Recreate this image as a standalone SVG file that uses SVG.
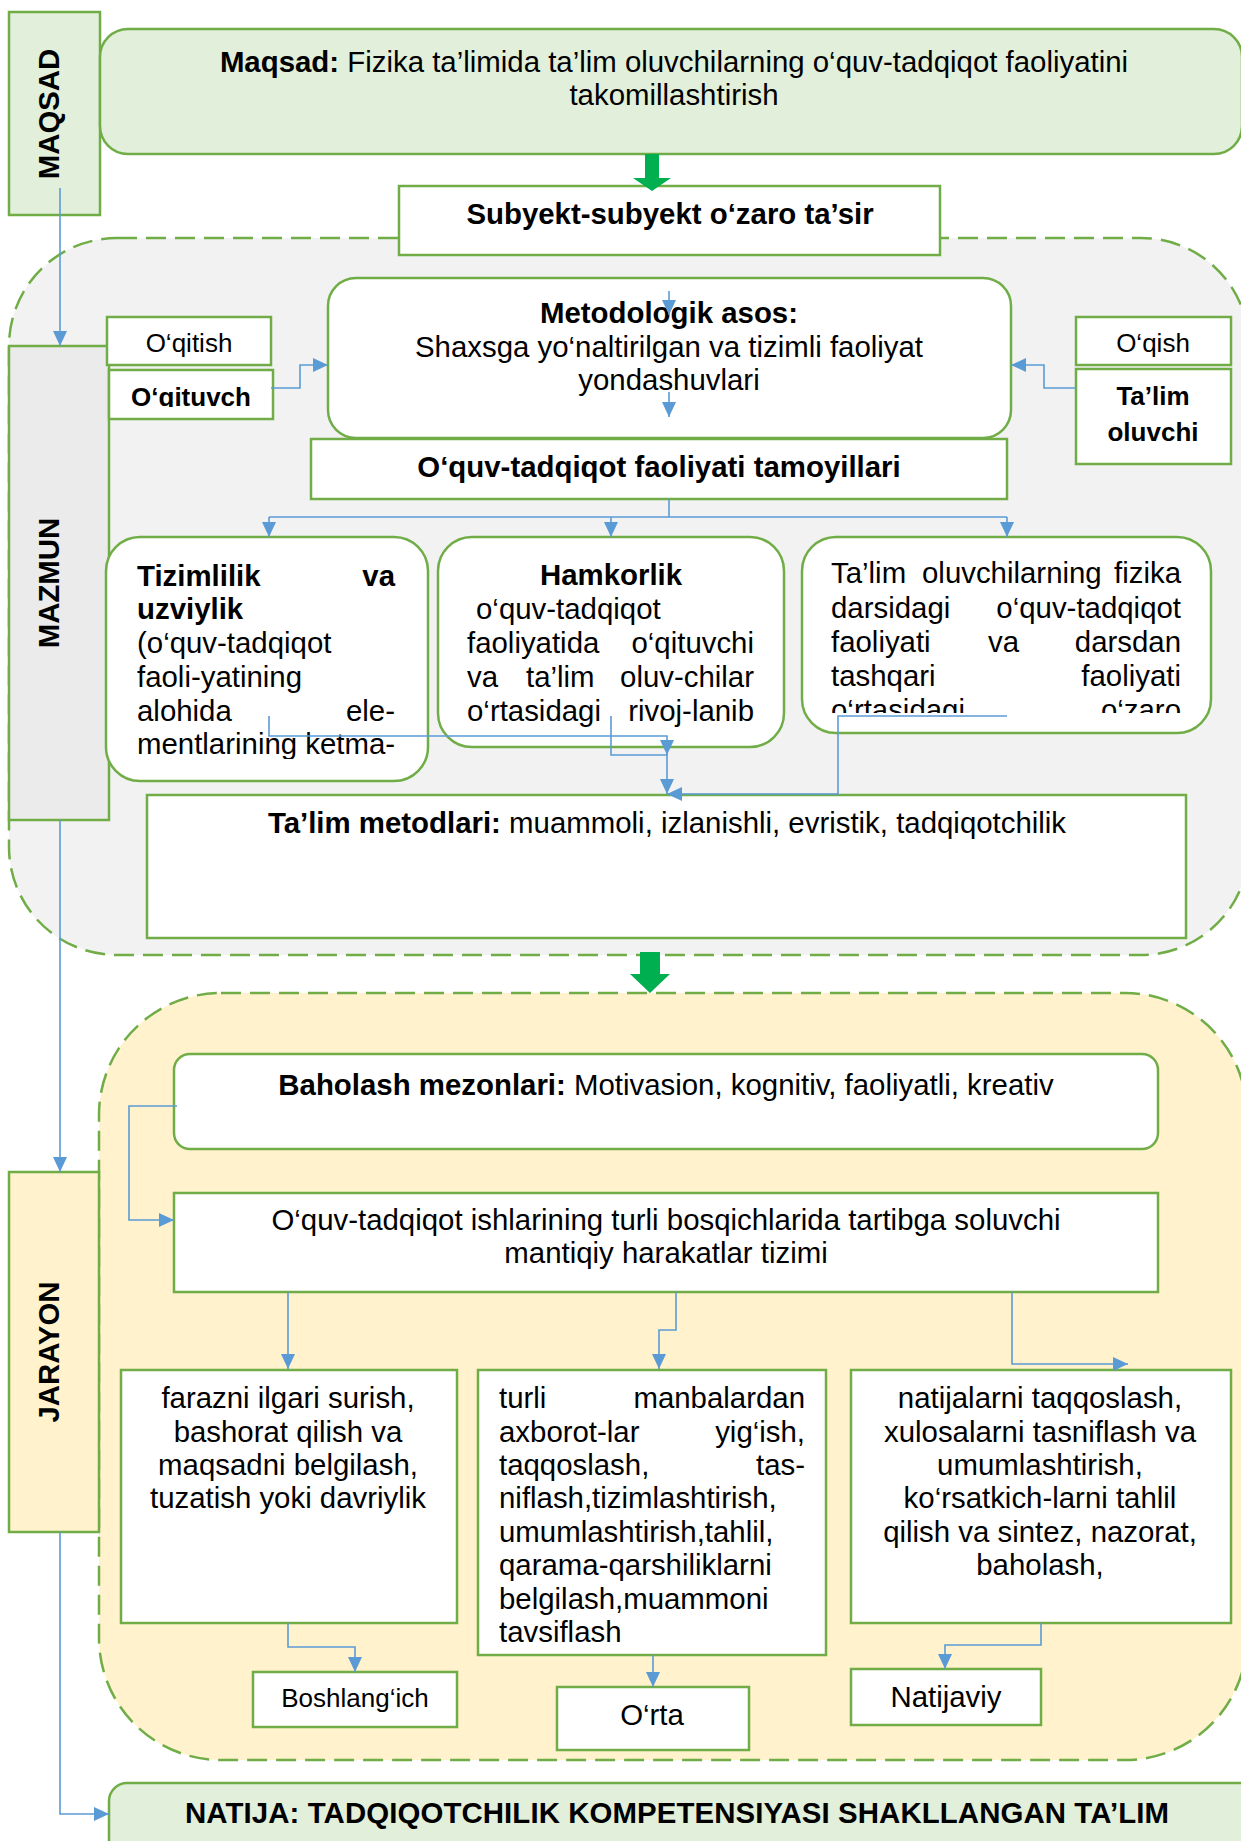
<svg xmlns="http://www.w3.org/2000/svg" width="1241" height="1841" viewBox="0 0 1241 1841">
<defs>
<style>
.box{fill:#ffffff;stroke:#70ad47;stroke-width:2.5}
.gbox{fill:#e2efda;stroke:#70ad47;stroke-width:2.5}
.ybox{fill:#fff2cc;stroke:#70ad47;stroke-width:2.5}
.mbox{fill:#ebebeb;stroke:#70ad47;stroke-width:2.5}
.t{font-family:"Liberation Sans",Arial,sans-serif;font-size:29.4px;fill:#000000}
.s{font-size:26px}
.b{font-weight:bold}
.m{text-anchor:middle}
.e{text-anchor:end}
.c{stroke:#5b9bd5;stroke-width:1.6;fill:none}
.ca{stroke:#5b9bd5;stroke-width:1.6;fill:none;marker-end:url(#ah)}
.dash{stroke:#70ad47;stroke-width:2.5;stroke-dasharray:20 9}
.garrow{fill:#00b050}
</style>
<marker id="ah" markerUnits="userSpaceOnUse" markerWidth="15" markerHeight="14" refX="15" refY="7" orient="auto"><path d="M0,0L15,7L0,14z" fill="#5b9bd5"/></marker>
<clipPath id="clipA"><rect x="106" y="537" width="322" height="222"/></clipPath>
<clipPath id="clipB"><rect x="438" y="537" width="346" height="191"/></clipPath>
<clipPath id="clipC"><rect x="802" y="537" width="409" height="176"/></clipPath>
<clipPath id="clipQ"><rect x="109" y="370" width="164" height="37"/></clipPath>
</defs>
<rect x="0" y="0" width="1241" height="1841" fill="#ffffff"/>

<g id="mazmun-area">
<rect x="9" y="238" width="1240" height="717" rx="108" fill="#f2f2f2" class="dash"/>
</g>
<g id="jarayon-area">
<rect x="99" y="993" width="1148" height="767" rx="122" fill="#fff2cc" class="dash"/>
</g>

<g id="maqsad-label">
<rect x="9" y="12" width="91" height="203" class="gbox"/>
<text class="t b m" transform="translate(59,114) rotate(-90)">MAQSAD</text>
</g>
<g id="maqsad">
<rect x="100" y="29" width="1142" height="125" rx="28" class="gbox"/>
<text class="t m" x="674" y="72"><tspan font-weight="bold">Maqsad:</tspan> Fizika ta’limida ta’lim oluvchilarning o‘quv-tadqiqot faoliyatini</text>
<text class="t m" x="674" y="105">takomillashtirish</text>
</g>
<g id="subyekt">
<rect x="399" y="186" width="541" height="69" class="box"/>
<text class="t b m" x="670" y="224">Subyekt-subyekt o‘zaro ta’sir</text>
</g>
<g id="mazmun-label">
<rect x="9" y="346" width="100" height="474" class="mbox"/>
<text class="t b m" transform="translate(59,583) rotate(-90)">MAZMUN</text>
</g>
<g id="oqitish">
<rect x="107" y="317" width="164" height="48" class="box"/>
<text class="t s m" x="189" y="352">O‘qitish</text>
</g>
<g id="oqituvchi">
<rect x="109" y="370" width="164" height="49" class="box"/>
<text class="t s b m" x="191" y="406" clip-path="url(#clipQ)">O‘qituvch</text>
</g>
<g id="oqish">
<rect x="1076" y="317" width="155" height="48" class="box"/>
<text class="t s m" x="1153" y="352">O‘qish</text>
</g>
<g id="talim-oluvchi">
<rect x="1076" y="369" width="155" height="95" class="box"/>
<text class="t s b m" x="1153" y="405">Ta’lim</text>
<text class="t s b m" x="1153" y="441">oluvchi</text>
</g>
<g id="metodologik">
<rect x="328" y="278" width="683" height="160" rx="28" class="box"/>
<text class="t b m" x="669" y="323">Metodologik asos:</text>
<text class="t m" x="669" y="357">Shaxsga yo‘naltirilgan va tizimli faoliyat</text>
<text class="t m" x="669" y="390">yondashuvlari</text>
</g>
<g id="tamoyillar">
<rect x="311" y="439" width="696" height="60" class="box"/>
<text class="t b m" x="659" y="477">O‘quv-tadqiqot faoliyati tamoyillari</text>
</g>
<g id="tizimlilik">
<rect x="106" y="537" width="322" height="244" rx="34" class="box"/>
<g clip-path="url(#clipA)">
<text class="t b" x="137" y="586">Tizimlilik</text><text class="t b e" x="395" y="586">va</text>
<text class="t b" x="137" y="619">uzviylik</text>
<text class="t" x="137" y="653">(o‘quv-tadqiqot</text>
<text class="t" x="137" y="687">faoli-yatining</text>
<text class="t" x="137" y="721">alohida</text><text class="t e" x="395" y="721">ele-</text>
<text class="t" x="137" y="754">mentlarining ketma-</text>
</g>
</g>
<g id="hamkorlik">
<rect x="438" y="537" width="346" height="210" rx="34" class="box"/>
<g clip-path="url(#clipB)">
<text class="t b m" x="611" y="585">Hamkorlik</text>
<text class="t" x="476" y="619">o‘quv-tadqiqot</text>
<text class="t" x="467" y="653">faoliyatida</text><text class="t e" x="754" y="653">o‘qituvchi</text>
<text class="t" x="467" y="687">va</text><text class="t" x="526" y="687">ta’lim</text><text class="t e" x="754" y="687">oluv-chilar</text>
<text class="t" x="467" y="721">o‘rtasidagi</text><text class="t e" x="754" y="721">rivoj-lanib</text>
</g>
</g>
<g id="darsdan-tashqari">
<rect x="802" y="537" width="409" height="196" rx="34" class="box"/>
<g clip-path="url(#clipC)">
<text class="t" x="831" y="583">Ta’lim</text><text class="t" x="922" y="583">oluvchilarning</text><text class="t e" x="1181" y="583">fizika</text>
<text class="t" x="831" y="618">darsidagi</text><text class="t e" x="1181" y="618">o‘quv-tadqiqot</text>
<text class="t" x="831" y="652">faoliyati</text><text class="t" x="988" y="652">va</text><text class="t e" x="1181" y="652">darsdan</text>
<text class="t" x="831" y="686">tashqari</text><text class="t e" x="1181" y="686">faoliyati</text>
<text class="t" x="831" y="720">o‘rtasidagi</text><text class="t e" x="1181" y="720">o‘zaro</text>
</g>
</g>
<g id="metodlar">
<rect x="147" y="795" width="1039" height="143" class="box"/>
<text class="t m" x="667" y="833"><tspan font-weight="bold">Ta’lim metodlari:</tspan> muammoli, izlanishli, evristik, tadqiqotchilik</text>
</g>

<g id="jarayon-label">
<rect x="9" y="1172" width="90" height="360" class="ybox"/>
<text class="t b m" transform="translate(59,1352) rotate(-90)">JARAYON</text>
</g>
<g id="baholash">
<rect x="174" y="1054" width="984" height="95" rx="16" class="box"/>
<text class="t m" x="666" y="1095"><tspan font-weight="bold">Baholash mezonlari:</tspan> Motivasion, kognitiv, faoliyatli, kreativ</text>
</g>
<g id="harakatlar">
<rect x="174" y="1193" width="984" height="99" class="box"/>
<text class="t m" x="666" y="1230">O‘quv-tadqiqot ishlarining turli bosqichlarida tartibga soluvchi</text>
<text class="t m" x="666" y="1263">mantiqiy harakatlar tizimi</text>
</g>
<g id="faraz">
<rect x="121" y="1370" width="336" height="253" class="box"/>
<text class="t m" x="288" y="1408">farazni ilgari surish,</text>
<text class="t m" x="288" y="1442">bashorat qilish va</text>
<text class="t m" x="288" y="1475">maqsadni belgilash,</text>
<text class="t m" x="288" y="1508">tuzatish yoki davriylik</text>
</g>
<g id="axborot">
<rect x="478" y="1370" width="348" height="285" class="box"/>
<text class="t" x="499" y="1408">turli</text><text class="t e" x="805" y="1408">manbalardan</text>
<text class="t" x="499" y="1442">axborot-lar</text><text class="t e" x="805" y="1442">yig‘ish,</text>
<text class="t" x="499" y="1475">taqqoslash,</text><text class="t e" x="805" y="1475">tas-</text>
<text class="t" x="499" y="1508">niflash,tizimlashtirish,</text>
<text class="t" x="499" y="1542">umumlashtirish,tahlil,</text>
<text class="t" x="499" y="1575">qarama-qarshiliklarni</text>
<text class="t" x="499" y="1609">belgilash,muammoni</text>
<text class="t" x="499" y="1642">tavsiflash</text>
</g>
<g id="natijalar">
<rect x="851" y="1370" width="380" height="253" class="box"/>
<text class="t m" x="1040" y="1408">natijalarni taqqoslash,</text>
<text class="t m" x="1040" y="1442">xulosalarni tasniflash va</text>
<text class="t m" x="1040" y="1475">umumlashtirish,</text>
<text class="t m" x="1040" y="1508">ko‘rsatkich-larni tahlil</text>
<text class="t m" x="1040" y="1542">qilish va sintez, nazorat,</text>
<text class="t m" x="1040" y="1575">baholash,</text>
</g>
<g id="boshlangich">
<rect x="253" y="1672" width="204" height="55" class="box"/>
<text class="t s m" x="355" y="1707">Boshlang‘ich</text>
</g>
<g id="orta">
<rect x="557" y="1687" width="192" height="63" class="box"/>
<text class="t m" x="652" y="1725">O‘rta</text>
</g>
<g id="natijaviy">
<rect x="851" y="1669" width="190" height="56" class="box"/>
<text class="t m" x="946" y="1707">Natijaviy</text>
</g>
<g id="natija">
<rect x="109" y="1783" width="1150" height="90" rx="18" class="gbox"/>
<text class="t b" x="185" y="1823" textLength="984" lengthAdjust="spacing">NATIJA: TADQIQOTCHILIK KOMPETENSIYASI SHAKLLANGAN TA’LIM</text>
</g>

<g id="connectors">
<polygon class="garrow" points="645,154 659,154 659,178 671,178 652,191 633,178 645,178"/>
<polygon class="garrow" points="640,952 660,952 660,974 670,974 650,993 630,974 640,974"/>
<path class="ca" d="M60,188V346"/>
<path class="ca" d="M60,820V1172"/>
<path class="ca" d="M60,1532V1814H109"/>
<path class="ca" d="M271,388H300V365H328"/>
<path class="ca" d="M1076,388H1044V365H1011"/>
<path class="ca" d="M669,291V315"/>
<path class="ca" d="M669,392V417"/>
<path class="c" d="M669,499V517M269,517H1007"/>
<path class="ca" d="M269,517V537"/>
<path class="ca" d="M611,517V537"/>
<path class="ca" d="M1007,517V537"/>
<path class="ca" d="M269,716V736H667V755"/>
<path class="ca" d="M611,716V755H667V794"/>
<path class="ca" d="M1007,716H838V794H667"/>
<path class="ca" d="M177,1106H129V1220H174"/>
<path class="ca" d="M288,1292V1369"/>
<path class="ca" d="M676,1292V1330H659V1369"/>
<path class="ca" d="M1012,1292V1364H1128"/>
<path class="ca" d="M288,1623V1647H355V1672"/>
<path class="ca" d="M653,1655V1687"/>
<path class="ca" d="M1041,1623V1645H945V1669"/>
</g>
</svg>
